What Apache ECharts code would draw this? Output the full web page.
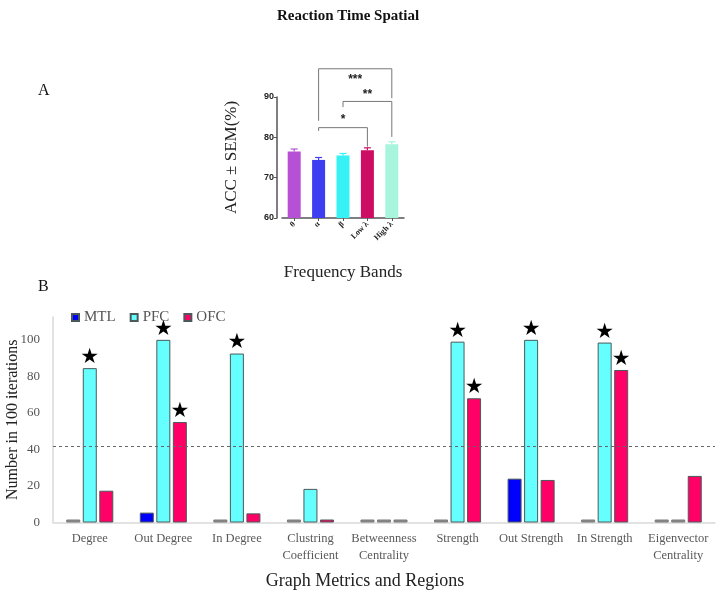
<!DOCTYPE html>
<html>
<head>
<meta charset="utf-8">
<script src="https://cdn.jsdelivr.net/npm/echarts@6/dist/echarts.min.js"></script>
<style>
  html, body { margin: 0; padding: 0; background: #fff; }
  #chart { width: 720px; height: 594px; }
</style>
</head>
<body>
<div id="chart"></div>
<script>
// panel A: accuracy per frequency band
const bands = ['θ', 'α', 'β', 'Low λ', 'High λ'];
const accMean = [76.5, 74.4, 75.5, 76.8, 78.3];
const accSem = [0.6, 0.6, 0.5, 0.6, 0.6];
const bandColors = ['#b651d6', '#3d3df2', '#36f2f5', '#cc0d63', '#a8f5de'];
// brackets: [from, to, top, leftEnd, rightEnd, textY, text]
const brackets = [
  [1, 3, 82.4, 81.6, 77.7, 84.4, '*'],
  [2, 4, 88.9, 87.5, 80.1, 90.6, '**'],
  [1, 4, 97.0, 84.1, 89.7, 94.3, '***']
];

// panel B: graph metrics
const metrics = ['Degree', 'Out Degree', 'In Degree', 'Clustring\nCoefficient', 'Betweenness\nCentrality',
  'Strength', 'Out Strength', 'In Strength', 'Eigenvector\nCentrality'];
const mtl = [0, 5.4, 0, 0, 0, 0, 24, 0, 0];
const pfc = [84.5, 100, 92.5, 18.4, 0, 99, 100, 98.5, 0];
const ofc = [17.4, 55, 5, 1.2, 0, 68, 23.3, 83.5, 25.5];
const mtlStar = [0, 0, 0, 0, 0, 0, 0, 0, 0];
const pfcStar = [1, 1, 1, 0, 0, 1, 1, 1, 0];
const ofcStar = [0, 1, 0, 0, 0, 1, 0, 1, 0];
const chanceLevel = 42;

const serif = '"Liberation Serif", "Times New Roman", serif';
const chart = echarts.init(document.getElementById('chart'));

function regionData(vals, stars) {
  return vals.map((v, i) => ({
    value: v,
    itemStyle: v === 0 ? { color: '#8c8c8c', borderColor: '#7a7a7a' } : undefined,
    label: { show: !!stars[i] }
  }));
}

function regionSeries(name, color, vals, stars) {
  return {
    name: name,
    type: 'bar',
    xAxisIndex: 1,
    yAxisIndex: 1,
    barWidth: 14,
    barGap: '18%',
    barMinHeight: 3,
    itemStyle: { color: color, borderColor: '#4a5a5a', borderWidth: 1 },
    label: {
      position: 'top', distance: 0, formatter: '★',
      fontSize: 21, color: '#000', fontFamily: 'DejaVu Sans'
    },
    data: regionData(vals, stars)
  };
}

const option = {
  animation: false,
  title: [
    { text: 'Reaction Time Spatial', left: 343, top: 4, textAlign: 'center',
      textStyle: { fontFamily: serif, fontWeight: 'bold', fontSize: 15, color: '#111' } },
    { text: 'A', left: 33, top: 78, textStyle: { fontFamily: serif, fontWeight: 'normal', fontSize: 16, color: '#111' } },
    { text: 'B', left: 33, top: 274, textStyle: { fontFamily: serif, fontWeight: 'normal', fontSize: 16, color: '#111' } },
    { text: 'Frequency Bands', left: 338, top: 259, textAlign: 'center',
      textStyle: { fontFamily: serif, fontWeight: 'normal', fontSize: 17, color: '#222' } },
    { text: 'Graph Metrics and Regions', left: 360, top: 567, textAlign: 'center',
      textStyle: { fontFamily: serif, fontWeight: 'normal', fontSize: 18, color: '#222' } }
  ],
  legend: {
    data: ['MTL', 'PFC', 'OFC'],
    left: 66, top: 305,
    itemWidth: 7, itemHeight: 7, itemGap: 14,
    icon: 'rect',
    textStyle: { fontFamily: serif, fontSize: 15, color: '#555' }
  },
  grid: [
    { left: 282, top: 97, width: 122, height: 121, outerBoundsMode: 'none' },
    { left: 53, top: 317, width: 662, height: 205.5, outerBoundsMode: 'none' }
  ],
  xAxis: [
    {
      gridIndex: 0, type: 'category', data: bands,
      axisLine: { lineStyle: { color: '#555', width: 1.5 } },
      axisTick: { show: true, length: 3, alignWithLabel: true, lineStyle: { color: '#555' } },
      axisLabel: { rotate: 45, fontSize: 8, fontWeight: 'bold', color: '#222', margin: 5, fontFamily: serif }
    },
    {
      gridIndex: 1, type: 'category', data: metrics,
      axisLine: { lineStyle: { color: '#d9d9d9', width: 1.5 } },
      axisTick: { show: false },
      axisLabel: { fontFamily: serif, fontSize: 12.5, color: '#595959', lineHeight: 17, margin: 8, interval: 0 }
    }
  ],
  yAxis: [
    {
      gridIndex: 0, type: 'value', min: 60, max: 90, interval: 10, offset: 5,
      name: 'ACC ± SEM(%)', nameLocation: 'middle', nameGap: 37, nameMoveOverlap: false,
      nameTextStyle: { fontFamily: serif, fontSize: 17, color: '#222' },
      axisLine: { show: true, lineStyle: { color: '#555', width: 1.5 } },
      axisTick: { show: true, length: 3, lineStyle: { color: '#555' } },
      axisLabel: { fontSize: 9, fontWeight: 'bold', color: '#222', margin: 3, fontFamily: 'Liberation Sans' },
      splitLine: { show: false }
    },
    {
      gridIndex: 1, type: 'value', min: 0, max: 112.5, interval: 20,
      name: 'Number in 100 iterations', nameLocation: 'middle', nameGap: 32, nameMoveOverlap: false,
      nameTextStyle: { fontFamily: serif, fontSize: 16, color: '#222' },
      axisLine: { show: true, lineStyle: { color: '#d9d9d9', width: 1.5 } },
      axisTick: { show: false },
      axisLabel: { fontFamily: serif, fontSize: 13, color: '#555', margin: 13, showMaxLabel: false },
      splitLine: { show: false }
    }
  ],
  series: [
    {
      name: 'acc', type: 'bar', xAxisIndex: 0, yAxisIndex: 0, barWidth: 13,
      data: accMean.map((v, i) => ({ value: v, itemStyle: { color: bandColors[i] } }))
    },
    {
      name: 'sem', type: 'custom', xAxisIndex: 0, yAxisIndex: 0, z: 3,
      data: accMean.map((v, i) => [i, v, accSem[i]]),
      renderItem: function (params, api) {
        const i = api.value(0);
        const base = api.coord([i, api.value(1)]);
        const top = api.coord([i, api.value(1) + api.value(2)]);
        const c = bandColors[i];
        return {
          type: 'group',
          children: [
            { type: 'line', shape: { x1: base[0], y1: base[1], x2: top[0], y2: top[1] }, style: { stroke: c, lineWidth: 1.2 } },
            { type: 'line', shape: { x1: top[0] - 3.5, y1: top[1], x2: top[0] + 3.5, y2: top[1] }, style: { stroke: c, lineWidth: 1.2 } }
          ]
        };
      }
    },
    {
      name: 'brackets', type: 'custom', xAxisIndex: 0, yAxisIndex: 0, clip: false, z: 4,
      data: brackets,
      renderItem: function (params, api) {
        const a = api.value(0), b = api.value(1);
        const pT0 = api.coord([a, api.value(2)]);
        const pT1 = api.coord([b, api.value(2)]);
        const yL = api.coord([a, api.value(3)])[1];
        const yR = api.coord([b, api.value(4)])[1];
        const yS = api.coord([a, api.value(5)])[1];
        return {
          type: 'group',
          children: [
            { type: 'polyline', shape: { points: [[pT0[0], yL], [pT0[0], pT0[1]], [pT1[0], pT1[1]], [pT1[0], yR]] },
              style: { stroke: '#777', lineWidth: 1, fill: null } },
            { type: 'text', style: { text: brackets[params.dataIndex][6], x: (pT0[0] + pT1[0]) / 2, y: yS,
              align: 'center', verticalAlign: 'middle', fill: '#222', font: 'bold 12px "Liberation Sans"' } }
          ]
        };
      }
    },
    regionSeries('MTL', '#0000ff', mtl, mtlStar),
    Object.assign(regionSeries('PFC', '#66ffff', pfc, pfcStar), {
      markLine: {
        silent: true, symbol: 'none', label: { show: false },
        lineStyle: { color: '#666', type: [3, 3], width: 1.2 },
        data: [{ yAxis: chanceLevel }]
      }
    }),
    regionSeries('OFC', '#ff0066', ofc, ofcStar)
  ]
};

chart.setOption(option);
</script>
</body>
</html>
